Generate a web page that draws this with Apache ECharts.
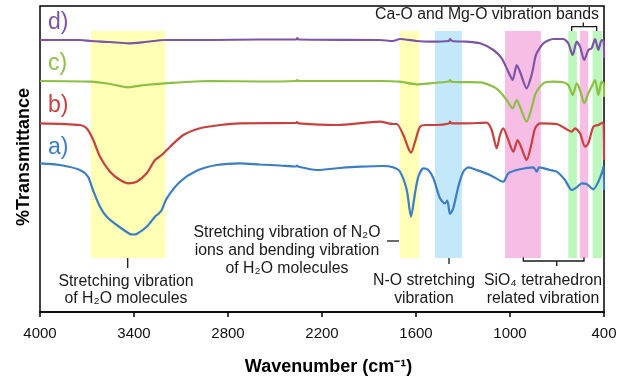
<!DOCTYPE html>
<html><head><meta charset="utf-8">
<script src="https://cdn.jsdelivr.net/npm/echarts@6/dist/echarts.min.js"></script>
<style>html,body{margin:0;padding:0;background:#fff}#c{width:628px;height:376px}</style>
</head><body><div id="c"></div>
<script>
// Wavenumber ticks (cm-1)
const xTicks = [400, 1000, 1600, 2200, 2800, 3400, 4000];
const seriesNames = ['a)', 'b)', 'c)', 'd)'];
// [wavenumber, transmittance (arbitrary offset units)]
const specA = [[4000,148.7],[3872,147],[3745,142],[3694,135.3],[3662,122],[3617,105.3],[3574,95.3],[3510,87],[3426,78],[3405,77.5],[3383,78],[3319,85.3],[3266,95.3],[3245,98],[3223,102],[3191,113.7],[3106,130.3],[3000,141.3],[2872,147],[2723,148.7],[2596,147.5],[2468,146.5],[2365,145.5],[2358,146.5],[2350,145.3],[2234,142],[2085,144],[1957,145.3],[1811,146],[1747,144.7],[1702,140.3],[1659,122],[1632,95.3],[1606,119],[1585,135.3],[1553,143.7],[1521,142],[1489,133.7],[1447,113.7],[1415,108.7],[1400,111.3],[1383,98],[1362,103.7],[1330,125.3],[1298,140.3],[1266,144.7],[1213,142],[1128,137],[1043,130.3],[1011,138.7],[936,142.7],[851,144.7],[830,140.3],[813,144.7],[745,142],[702,140.3],[649,132],[606,122],[574,124.7],[542,128.7],[511,128],[468,122.7],[436,130.3],[408,142],[403,146],[400,122]];
const specB = [[4000,188.7],[3745,187],[3702,183.7],[3660,172],[3617,155.3],[3553,140.3],[3489,132],[3436,128.7],[3383,130.3],[3319,138.7],[3266,152],[3223,157],[3170,165.3],[3085,177],[2979,183.7],[2851,187],[2723,188.7],[2365,189],[2358,190],[2350,188.7],[2106,187],[1830,190.3],[1747,188],[1723,188],[1681,177],[1649,163.7],[1632,159.3],[1606,170.3],[1574,185.3],[1532,187],[1468,187],[1390,188.5],[1383,190.5],[1376,188.7],[1276,188.7],[1149,189.3],[1117,182],[1085,163.7],[1064,177],[1043,183.7],[1011,172],[979,160.3],[951,172],[926,163.7],[894,152],[862,168.7],[840,183.7],[809,188.7],[702,188],[649,183.7],[606,180.3],[585,183.7],[553,178.7],[521,165.3],[500,168.7],[468,185.3],[436,187],[408,189.3],[403,188],[400,152]];
const specC = [[4000,231],[3674,230.3],[3553,228],[3438,224.7],[3330,227],[3202,228.7],[2915,231],[2596,230.5],[2365,231],[2358,232],[2350,231],[1830,231],[1702,230.3],[1596,227.7],[1511,228.7],[1390,230.5],[1383,231.8],[1370,230],[1191,229.7],[1106,225.3],[1064,220.3],[1021,212],[983,203.7],[957,212],[936,205.3],[894,190.3],[862,203.7],[836,218.7],[787,228.7],[724,230.3],[660,229.7],[628,227],[600,217],[574,228.7],[553,222],[526,208.7],[500,218.7],[479,225.3],[457,232],[436,217],[415,230.3],[403,229],[400,215.3]];
const specD = [[4000,272],[3745,272],[3674,271],[3553,270],[3438,268.7],[3330,270],[3202,272],[2915,272],[2596,272.5],[2365,272.5],[2358,274],[2350,272.5],[1830,272],[1747,271],[1702,273],[1596,271],[1511,270.3],[1390,271],[1383,273],[1370,271],[1276,270.3],[1191,268.7],[1106,262],[1053,253.7],[1011,240.3],[983,232],[957,247],[936,240.3],[894,223.7],[862,237],[840,253.7],[830,258.7],[787,268.7],[724,273],[660,273],[628,268.7],[600,257],[574,270.3],[553,265.3],[526,252],[500,262],[479,263.7],[457,273],[436,262],[415,272],[403,271],[400,254]];
// Highlighted bands [from, to] in cm-1
const yellowBands = [[3675, 3200], [1703, 1581]];
const blueBands = [[1479, 1307]];
const pinkBands = [[1032, 803], [554, 501]];
const greenBands = [[628, 573], [473, 412]];
const bandLow = 54, bandHigh = 281;

const colors = ['#3b7dc6', '#c8413e', '#8cbf42', '#7b55a6'];
const specs = [specA, specB, specC, specD];
const F = 'Liberation Sans, Arial, sans-serif';

function areas(bands, color) {
  return bands.map(b => [{xAxis: b[0], yAxis: bandLow, itemStyle: {color}}, {xAxis: b[1], yAxis: bandHigh}]);
}

const series = specs.map((d, i) => ({
  type: 'line', name: seriesNames[i], data: d, showSymbol: false, smooth: 0.25,
  lineStyle: {color: colors[i], width: 2.2}, z: 2, animation: false
}));
series.push({
  type: 'line', data: [], z: 10, silent: true, animation: false,
  markArea: {
    silent: true,
    data: [].concat(
      areas(yellowBands, 'rgba(255,255,0,0.29)'),
      areas(blueBands, 'rgba(0,160,235,0.24)'),
      areas(pinkBands, 'rgba(230,40,170,0.30)'),
      areas(greenBands, 'rgba(40,230,40,0.30)')
    )
  }
});

const labelY = [148, 106, 63.3, 22.7];
const graphics = seriesNames.map((n, i) => ({
  type: 'text', x: 48, y: labelY[i],
  style: {text: n, fill: colors[i], font: '23px ' + F, verticalAlign: 'middle'}
}));
const txt = (x, y, s, lh) => ({type: 'text', x, y, style: {text: s, fill: '#1a1a1a', font: '15.8px ' + F, align: 'center', verticalAlign: 'middle', lineHeight: lh || 17.6}});
const ln = (pts) => ({type: 'polyline', shape: {points: pts}, style: {stroke: '#1a1a1a', lineWidth: 1.3, fill: null}});
graphics.push(
  txt(487, 15, 'Ca-O and Mg-O vibration bands'),
  ln([[571.7, 31], [571.7, 26.7], [596.7, 26.7], [596.7, 31]]),
  ln([[583.3, 26.7], [583.3, 22.5]]),
  txt(126, 290, 'Stretching vibration\nof H\u2082O molecules', 16.6),
  ln([[127.7, 258], [127.7, 268]]),
  txt(287, 250.5, 'Stretching vibration of N\u2082O\nions and bending vibration\nof H\u2082O molecules', 17.8),
  ln([[387, 241], [399, 241]]),
  txt(424, 289.5, 'N-O stretching\nvibration', 17.6),
  ln([[449, 258], [449, 264]]),
  txt(543, 289.5, 'SiO\u2084 tetrahedron\nrelated vibration', 17.6),
  ln([[523.3, 257.3], [523.3, 261], [584, 261], [584, 257.3]]),
  ln([[556.7, 261], [556.7, 266]]),
  {type: 'text', x: 328.5, y: 366.7, style: {text: 'Wavenumber (cm\u207B\u00B9)', fill: '#000', font: 'bold 18px ' + F, align: 'center', verticalAlign: 'middle'}},
  {type: 'text', x: 24, y: 157, rotation: Math.PI / 2, style: {text: '%Transmittance', fill: '#000', font: 'bold 18px ' + F, align: 'center', verticalAlign: 'middle'}}
);

const chart = echarts.init(document.getElementById('c'), null, {renderer: 'canvas'});
chart.setOption({
  animation: false,
  backgroundColor: '#fff',
  grid: {left: 40, right: 24, top: 6, bottom: 64, show: true, borderColor: '#000', borderWidth: 1.5, backgroundColor: 'transparent'},
  xAxis: {
    type: 'value', min: 400, max: 4000, inverse: true,
    axisLine: {show: true, lineStyle: {color: '#000', width: 1.5}},
    axisTick: {show: true, inside: false, length: 5, lineStyle: {color: '#000', width: 1.5}, customValues: xTicks},
    axisLabel: {show: true, margin: 14, fontSize: 15, color: '#111', fontFamily: F, customValues: xTicks, formatter: v => String(v)},
    splitLine: {show: false}
  },
  yAxis: {
    type: 'value', min: 0, max: 306, show: true,
    axisLine: {show: false}, axisTick: {show: false}, axisLabel: {show: false}, splitLine: {show: false}
  },
  series,
  graphic: graphics
});
</script></body></html>
